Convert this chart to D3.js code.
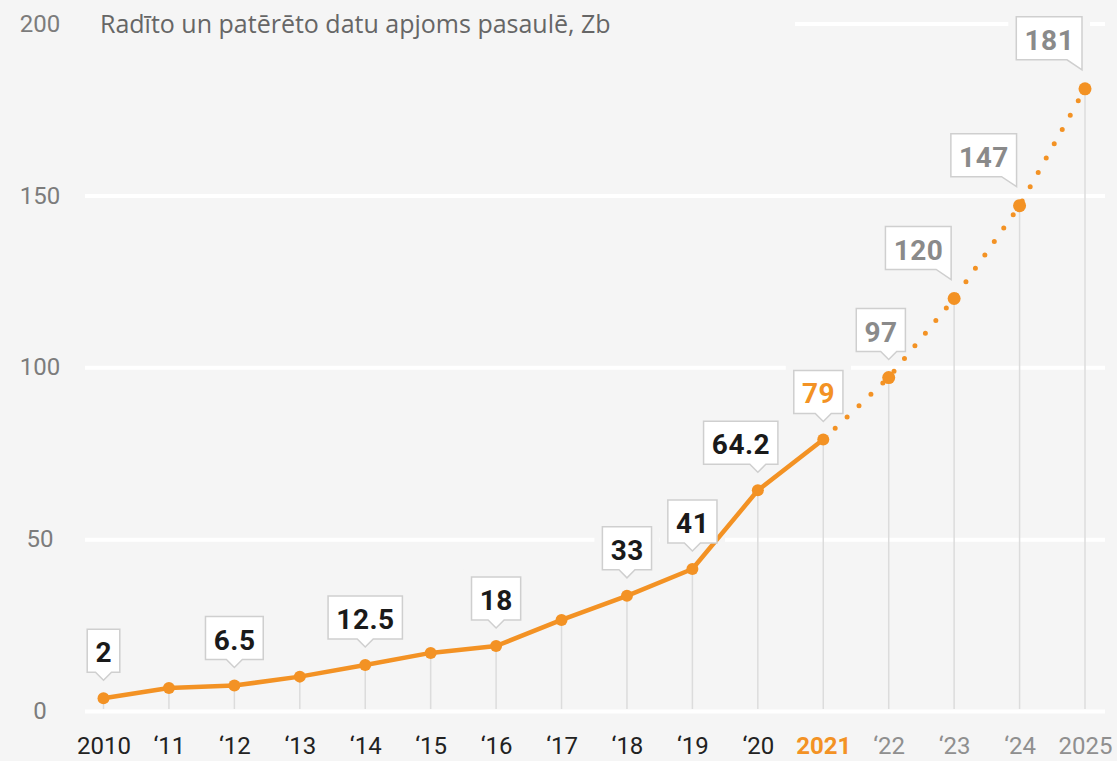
<!DOCTYPE html>
<html>
<head>
<meta charset="utf-8">
<script src="https://cdn.jsdelivr.net/npm/d3@7"></script>
<style>
  html, body { margin: 0; padding: 0; background: #f5f5f5; }
  svg { display: block; }
</style>
</head>
<body>
<div id="chart"></div>
<script>
// Data
const years = [2010, 2011, 2012, 2013, 2014, 2015, 2016, 2017, 2018, 2019, 2020, 2021, 2022, 2023, 2024, 2025];
const xLabels = ["2010", "‘11", "‘12", "‘13", "‘14", "‘15", "‘16", "‘17", "‘18", "‘19", "‘20", "2021", "‘22", "‘23", "‘24", "2025"];
const values = [3.7, 6.7, 7.4, 10.0, 13.4, 16.9, 18.9, 26.5, 33.5, 41.3, 64.2, 79, 97, 120, 147, 181];
const labelYears = [2010, 2012, 2014, 2016, 2018, 2019, 2020, 2021, 2022, 2023, 2024, 2025];
const labelTexts = ["2", "6.5", "12.5", "18", "33", "41", "64.2", "79", "97", "120", "147", "181"];
const yTicks = [0, 50, 100, 150, 200];
const currentYear = 2021;
const title = "Radīto un patērēto datu apjoms pasaulē, Zb";

// where the pointer sits along each callout box (0.5 = middle, "right" = corner tail)
const labelAnchor = [0.5, 0.5, 0.5, 0.5, 0.5, 0.5, 0.73, 0.6, 0.66, "right", "right", "right"];

const W = 1117, H = 761;
const bg = "#f5f5f5";
const orange = "#f39224";

const svg = d3.select("#chart").append("svg")
    .attr("width", W).attr("height", H);

svg.append("rect").attr("width", W).attr("height", H).attr("fill", bg);

const x = d3.scalePoint().domain(years).range([103.5, 1085]);
const y = d3.scaleLinear().domain([0, 200]).range([711, 23.5]);

const colorFor = yr => yr < currentYear ? "#1a1a1a" : (yr === currentYear ? orange : "#8a8a8a");

// Horizontal grid
svg.append("g")
    .attr("transform", "translate(85,0)")
    .call(d3.axisLeft(y).tickValues(yTicks).tickSize(-1020).tickFormat(""))
    .call(g => g.select(".domain").remove())
    .call(g => g.selectAll("line").attr("stroke", "#ffffff").attr("stroke-width", 4));

// Title, with a patch of background behind it
svg.append("rect").attr("x", 85).attr("y", 8).attr("width", 710).attr("height", 34).attr("fill", bg);
svg.append("text")
    .attr("x", 100).attr("y", 33)
    .style("font-family", "'Open Sans', sans-serif")
    .style("font-size", "25px")
    .style("fill", "#666")
    .text(title);

// Y labels
svg.append("g")
    .attr("transform", "translate(40,0)")
    .call(d3.axisLeft(y).tickValues(yTicks).tickSize(0).tickPadding(0))
    .call(g => g.select(".domain").remove())
    .call(g => g.selectAll("text")
        .attr("text-anchor", "middle")
        .style("font-family", "Roboto, sans-serif")
        .style("font-size", "24px")
        .style("fill", "#7c7c7c"));

// X labels
svg.append("g")
    .attr("transform", "translate(0,737)")
    .call(d3.axisBottom(x).tickSize(0).tickPadding(0).tickFormat((d, i) => xLabels[i]))
    .call(g => g.select(".domain").remove())
    .call(g => g.selectAll("text")
        .style("font-family", "Roboto, sans-serif")
        .style("font-size", "24px")
        .style("font-weight", d => d === currentYear ? "700" : "400")
        .style("fill", d => d < currentYear ? "#222" : (d === currentYear ? orange : "#8f8f8f")));

const pts = years.map((yr, i) => ({ yr, v: values[i] }));

// Callout halos (hide the grid behind the boxes)
const haloG = svg.append("g");
// Vertical drop lines
svg.append("g").selectAll("line")
    .data(pts).join("line")
    .attr("x1", d => x(d.yr)).attr("x2", d => x(d.yr))
    .attr("y1", d => y(d.v)).attr("y2", y(0) - 2)
    .attr("stroke", "#dcdcdc").attr("stroke-width", 1.5);

const line = d3.line().x(d => x(d.yr)).y(d => y(d.v));
const actual = pts.filter(d => d.yr <= currentYear);
const forecast = pts.filter(d => d.yr >= currentYear);

svg.append("path").datum(actual)
    .attr("d", line).attr("fill", "none")
    .attr("stroke", orange).attr("stroke-width", 4.5).attr("stroke-linejoin", "round");

svg.append("path").datum(forecast)
    .attr("d", line).attr("fill", "none")
    .attr("stroke", orange).attr("stroke-width", 5)
    .attr("stroke-linecap", "round").attr("stroke-dasharray", "0 16.4");

svg.append("g").selectAll("circle")
    .data(pts).join("circle")
    .attr("cx", d => x(d.yr)).attr("cy", d => y(d.v))
    .attr("r", d => d.yr > currentYear ? 6.5 : 6)
    .attr("fill", orange);

// Callouts
const calloutG = svg.append("g");
labelYears.forEach((yr, i) => {
    const v = values[years.indexOf(yr)];
    const px = x(yr), py = y(v);
    const anchor = labelAnchor[i];
    const g = calloutG.append("g");
    const txt = g.append("text")
        .style("font-family", "Roboto, sans-serif")
        .style("font-size", "28px")
        .style("font-weight", "700")
        .style("letter-spacing", "0.5px")
        .style("fill", colorFor(yr))
        .attr("text-anchor", "middle")
        .text(labelTexts[i]);
    const tw = txt.node().getComputedTextLength();
    const bw = tw + 16, bh = 43;
    let path, left, top, bottom;
    if (anchor === "right") {
        const tipX = px - 3, tipY = py - 19;
        bottom = tipY - 10; top = bottom - bh;
        const right = tipX; left = right - bw;
        path = `M${left},${top}H${right}V${tipY}L${right - 15},${bottom}H${left}Z`;
    } else {
        const tipX = px, tipY = py - 18;
        bottom = tipY - 8; top = bottom - bh;
        left = tipX - anchor * bw;
        const right = left + bw;
        path = `M${left},${top}H${right}V${bottom}H${tipX + 8}L${tipX},${tipY}L${tipX - 8},${bottom}H${left}Z`;
    }
    haloG.append("rect")
        .attr("x", left - 8).attr("y", top - 8)
        .attr("width", bw + 16).attr("height", bh + 16)
        .attr("fill", bg);
    g.insert("path", "text")
        .attr("d", path)
        .attr("fill", "#ffffff")
        .attr("stroke", "#cfcfcf").attr("stroke-width", 1.5);
    txt.attr("x", left + bw / 2 + 0.25).attr("y", bottom - 10);
});
</script>
</body>
</html>
